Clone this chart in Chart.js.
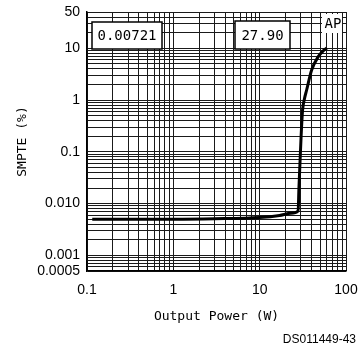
<!DOCTYPE html>
<html>
<head>
<meta charset="utf-8">
<script src="https://cdn.jsdelivr.net/npm/chart.js@4.4.1/dist/chart.umd.min.js"></script>
<style>
  body { margin: 0; background: #fff; }
  canvas { display: block; }
</style>
</head>
<body>
<canvas id="smpteChart" width="362" height="349"></canvas>
<script>
// Axis ticks (labelled values only; gridlines at every 1..9 x decade)
const xTickValues = [0.1, 1, 10, 100];
const xTickLabels = ['0.1', '1', '10', '100'];
const yTickValues = [50, 10, 1, 0.1, 0.01, 0.001, 0.0005];
const yTickLabels = ['50', '10', '1', '0.1', '0.010', '0.001', '0.0005'];

// SMPTE IMD vs output power
const powerW = [0.115, 0.3, 1, 3, 10, 17, 23, 27.9, 28.5, 29.3, 30.2, 31.4, 33, 35, 40, 47.5, 54, 60];
const smptePct = [0.0050, 0.0050, 0.0050, 0.0051, 0.0054, 0.0059, 0.0065, 0.0072, 0.02, 0.06, 0.2, 0.64, 1.05, 1.56, 3.8, 6.8, 8.8, 10.1];

// readout boxes on the analyser plot
const readouts = ['0.00721', '27.90'];
const tagText = 'AP';
const figureId = 'DS011449-43';

function decadeGrid(min, max) {
  const out = [];
  for (let e = Math.floor(Math.log10(min)); e <= Math.ceil(Math.log10(max)); e++) {
    for (let m = 1; m <= 9; m++) {
      const v = Number((m * Math.pow(10, e)).toPrecision(6));
      if (v >= min * (1 - 1e-9) && v <= max * (1 + 1e-9)) out.push(v);
    }
  }
  return out;
}

function labelFor(values, labels) {
  return function (value) {
    const i = values.findIndex(t => Math.abs(t - value) / t < 1e-6);
    return i >= 0 ? labels[i] : '';
  };
}

const boxesPlugin = {
  id: 'boxes',
  afterDraw(chart) {
    const ctx = chart.ctx;
    const a = chart.chartArea;
    ctx.save();
    ctx.font = '14px "DejaVu Sans Mono"';
    ctx.textAlign = 'center';
    ctx.textBaseline = 'middle';
    const boxes = [
      { x: a.left + 5, y: a.top + 10, w: 70, h: 27, text: readouts[0] },
      { x: a.left + 148, y: a.top + 9, w: 55, h: 28, text: readouts[1] }
    ];
    boxes.forEach(b => {
      ctx.fillStyle = '#fff';
      ctx.fillRect(b.x, b.y, b.w, b.h);
      ctx.strokeStyle = '#000';
      ctx.lineWidth = 1.5;
      ctx.strokeRect(b.x, b.y, b.w, b.h);
      ctx.fillStyle = '#000';
      ctx.fillText(b.text, b.x + b.w / 2, b.y + b.h / 2 + 1);
    });
    // AP tag top right
    ctx.fillStyle = '#fff';
    ctx.fillRect(a.right - 24, a.top + 2, 20, 19);
    ctx.fillStyle = '#000';
    ctx.fillText(tagText, a.right - 13, a.top + 12);
    // figure id
    ctx.font = '12px "Liberation Sans"';
    ctx.textAlign = 'right';
    ctx.fillText(figureId, 356, 340);
    ctx.restore();
  }
};

const gridStyle = { color: '#1a1a1a', lineWidth: 1, drawTicks: false };
const tickFont = { family: 'Liberation Sans', size: 14 };

new Chart(document.getElementById('smpteChart'), {
  type: 'line',
  data: {
    datasets: [{
      data: powerW.map((x, i) => ({ x: x, y: smptePct[i] })),
      borderColor: '#000',
      borderWidth: 3,
      pointRadius: 0,
      fill: false,
      cubicInterpolationMode: 'monotone'
    }]
  },
  options: {
    responsive: false,
    animation: false,
    devicePixelRatio: 1,
    layout: { padding: { top: 12, right: 16, left: 0, bottom: 0 } },
    plugins: { legend: { display: false }, tooltip: { enabled: false } },
    scales: {
      x: {
        type: 'logarithmic',
        min: 0.1,
        max: 100,
        afterBuildTicks: s => { s.ticks = decadeGrid(0.1, 100).map(v => ({ value: v })); },
        afterFit: s => { s.height = 78; s.paddingLeft = 0; s.paddingRight = 0; },
        grid: gridStyle,
        border: { display: true, color: '#000', width: 1.5 },
        ticks: {
          autoSkip: false, maxRotation: 0, padding: 11,
          color: '#000', font: tickFont,
          callback: labelFor(xTickValues, xTickLabels)
        },
        title: {
          display: true, text: 'Output Power (W)', color: '#000',
          font: { family: 'DejaVu Sans Mono', size: 13 },
          padding: { top: 0, bottom: 25 }
        }
      },
      y: {
        type: 'logarithmic',
        min: 0.0005,
        max: 50,
        afterBuildTicks: s => { s.ticks = decadeGrid(0.0005, 50).map(v => ({ value: v })); },
        afterFit: s => { s.width = 87; s.paddingTop = 0; s.paddingBottom = 0; },
        grid: gridStyle,
        border: { display: true, color: '#000', width: 1.5 },
        ticks: {
          autoSkip: false, padding: 7,
          color: '#000', font: tickFont,
          callback: labelFor(yTickValues, yTickLabels)
        },
        title: {
          display: true, text: 'SMPTE (%)', color: '#000',
          font: { family: 'DejaVu Sans Mono', size: 13 },
          padding: { top: 15, bottom: 0 }
        }
      }
    }
  },
  plugins: [boxesPlugin]
});
</script>
</body>
</html>
